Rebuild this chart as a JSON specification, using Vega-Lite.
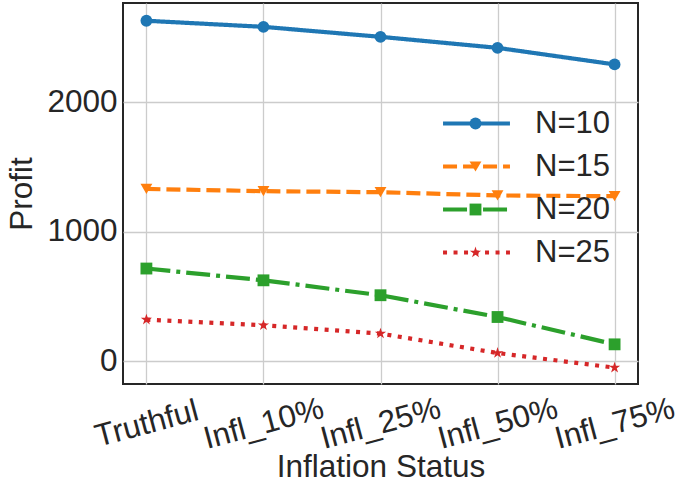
{
  "$schema": "https://vega.github.io/schema/vega-lite/v6.json",
  "width": 515,
  "height": 381,
  "autosize": {"type": "none"},
  "padding": {"left": 123, "top": 3, "right": 42, "bottom": 105},
  "background": "white",
  "config": {
    "font": "Liberation Sans",
    "view": {"stroke": "#262626", "strokeWidth": 2},
    "axis": {
      "labelFont": "Liberation Sans",
      "titleFont": "Liberation Sans",
      "labelFontSize": 31.5,
      "titleFontSize": 31.5,
      "labelColor": "#262626",
      "titleColor": "#262626",
      "titleFontWeight": "normal",
      "gridColor": "#cccccc",
      "gridWidth": 1.3,
      "domain": false,
      "ticks": false
    },
    "legend": {
      "labelFont": "Liberation Sans",
      "labelFontSize": 31,
      "labelColor": "#262626",
      "padding": 0
    }
  },
  "data": {
    "values": [
      {"status": "Truthful", "N": "N=10", "profit": 2628},
      {"status": "Infl_10%", "N": "N=10", "profit": 2581},
      {"status": "Infl_25%", "N": "N=10", "profit": 2504},
      {"status": "Infl_50%", "N": "N=10", "profit": 2419},
      {"status": "Infl_75%", "N": "N=10", "profit": 2291},
      {"status": "Truthful", "N": "N=15", "profit": 1330},
      {"status": "Infl_10%", "N": "N=15", "profit": 1313},
      {"status": "Infl_25%", "N": "N=15", "profit": 1305},
      {"status": "Infl_50%", "N": "N=15", "profit": 1280},
      {"status": "Infl_75%", "N": "N=15", "profit": 1274},
      {"status": "Truthful", "N": "N=20", "profit": 716},
      {"status": "Infl_10%", "N": "N=20", "profit": 625},
      {"status": "Infl_25%", "N": "N=20", "profit": 510},
      {"status": "Infl_50%", "N": "N=20", "profit": 342},
      {"status": "Infl_75%", "N": "N=20", "profit": 131},
      {"status": "Truthful", "N": "N=25", "profit": 322},
      {"status": "Infl_10%", "N": "N=25", "profit": 278},
      {"status": "Infl_25%", "N": "N=25", "profit": 214},
      {"status": "Infl_50%", "N": "N=25", "profit": 64},
      {"status": "Infl_75%", "N": "N=25", "profit": -49}
    ]
  },
  "encoding": {
    "x": {
      "field": "status",
      "type": "ordinal",
      "sort": ["Truthful", "Infl_10%", "Infl_25%", "Infl_50%", "Infl_75%"],
      "scale": {"type": "point", "padding": 0.2},
      "title": "Inflation Status",
      "axis": {"labelAngle": -15, "labelAlign": "center", "labelBaseline": "middle", "labelPadding": 40, "titlePadding": -3, "grid": true}
    },
    "y": {
      "field": "profit",
      "type": "quantitative",
      "scale": {"domain": [-175, 2765], "nice": false, "zero": false},
      "title": "Profit",
      "axis": {"values": [0, 1000, 2000], "format": "d", "labelPadding": 6, "titlePadding": 8}
    }
  },
  "layer": [
    {
      "mark": {"type": "line", "strokeWidth": 4.2, "strokeCap": "butt"},
      "encoding": {
        "color": {
          "field": "N", "type": "nominal",
          "scale": {"domain": ["N=10", "N=15", "N=20", "N=25"], "range": ["#1f77b4", "#ff7f0e", "#2ca02c", "#d62728"]},
          "legend": {"orient": "none", "legendX": 338, "legendY": 105, "title": null, "symbolType": "M-4,0L4,0", "symbolSize": 280, "symbolStrokeWidth": 4.2, "labelOffset": 43, "rowPadding": 11}
        },
        "strokeDash": {
          "field": "N", "type": "nominal",
          "scale": {"domain": ["N=10", "N=15", "N=20", "N=25"], "range": [[1, 0], [14, 6], [24, 6, 4, 6], [4, 6.5]]},
          "legend": {"orient": "none", "legendX": 338, "legendY": 105, "title": null, "symbolType": "M-4,0L4,0", "symbolSize": 280, "symbolStrokeWidth": 4.2, "labelOffset": 43, "rowPadding": 11}
        }
      }
    },
    {
      "mark": {"type": "point", "filled": true, "size": 140, "opacity": 1},
      "encoding": {
        "color": {
          "field": "N", "type": "nominal",
          "legend": {"orient": "none", "legendX": 337, "legendY": 105, "title": null, "symbolSize": 140, "symbolStrokeWidth": 0, "symbolOpacity": 1, "labelExpr": "''", "rowPadding": 11}
        },
        "shape": {
          "field": "N", "type": "nominal",
          "scale": {"domain": ["N=10", "N=15", "N=20", "N=25"], "range": ["circle", "triangle-down", "square", "M0,-1L0.225,-0.309L0.951,-0.309L0.363,0.118L0.588,0.809L0,0.382L-0.588,0.809L-0.363,0.118L-0.951,-0.309L-0.225,-0.309Z"]},
          "legend": {"orient": "none", "legendX": 337, "legendY": 105, "title": null, "symbolSize": 140, "symbolStrokeWidth": 0, "symbolOpacity": 1, "labelExpr": "''", "rowPadding": 11}
        }
      }
    }
  ],
  "resolve": {"legend": {"color": "independent", "strokeDash": "independent", "shape": "independent"}}
}
